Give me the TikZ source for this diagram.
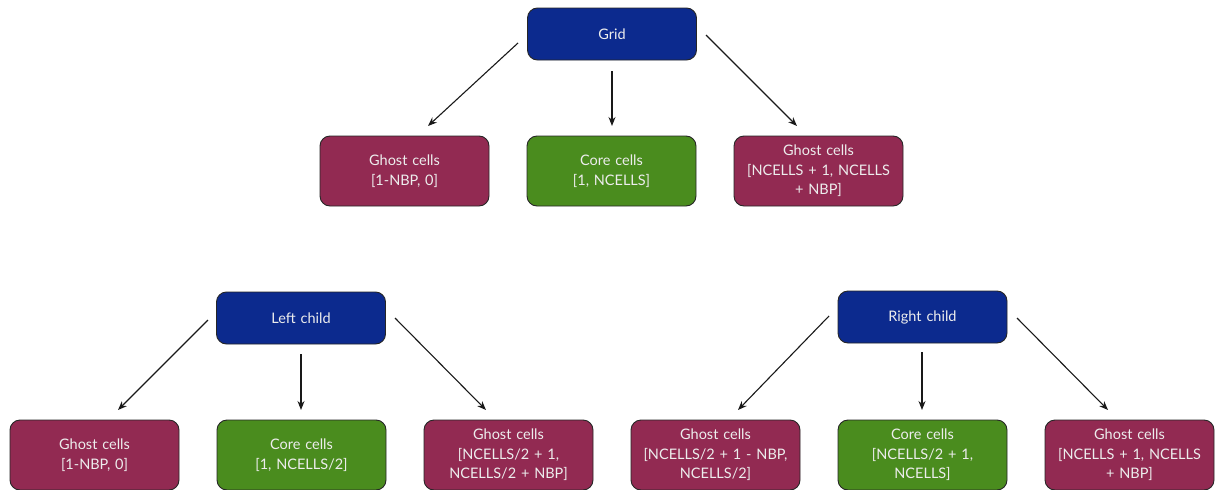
\documentclass[tikz,border=0pt]{standalone}
\usepackage{fontspec}
\setmainfont{Lato}
\usetikzlibrary{arrows.meta}
\definecolor{gridblue}{HTML}{0C2A8E}
\definecolor{ghostred}{HTML}{922A52}
\definecolor{coregreen}{HTML}{4A8C1E}
\definecolor{txt}{HTML}{EDEDED}
\tikzset{
  cellbox/.style={draw=black!85, line width=0.9pt, rounded corners=10pt,
    minimum width=169pt, minimum height=70pt, inner sep=0pt,
    text width=164pt, align=center, text=txt,
    font=\fontsize{14.5}{19.5}\selectfont},
  ghost/.style={cellbox, fill=ghostred},
  core/.style={cellbox, fill=coregreen},
  parent/.style={cellbox, fill=gridblue, minimum height=52pt},
  arr/.style={-{Stealth[length=9pt,width=7pt]}, line width=1.1pt, black!90}
}
\begin{document}
\begin{tikzpicture}[x=1pt,y=-1pt]
\path[use as bounding box] (0,0) rectangle (1227,490);

% top tree
\node[parent] (grid) at (612,34) {Grid};
\node[ghost] (gl) at (404.5,171) {Ghost cells\\{}[1-NBP, 0]};
\node[core]  (gc) at (611.5,171) {Core cells\\{}[1, NCELLS]};
\node[ghost] (gr) at (818.5,171) {Ghost cells\\{}[NCELLS + 1, NCELLS\\+ NBP]};

\coordinate (g1) at (518,43);  \coordinate (g1e) at (428,126);
\coordinate (g2) at (612,71);  \coordinate (g2e) at (612,126);
\coordinate (g3) at (706,35);  \coordinate (g3e) at (797,126);
\draw[arr] (g1) -- (g1e);
\draw[arr] (g2) -- (g2e);
\draw[arr] (g3) -- (g3e);

% left child tree
\node[parent] (lc) at (301,318) {Left child};
\node[ghost] (lgl) at (94.5,455)  {Ghost cells\\{}[1-NBP, 0]};
\node[core]  (lgc) at (301.5,455) {Core cells\\{}[1, NCELLS/2]};
\node[ghost] (lgr) at (508.5,455) {Ghost cells\\{}[NCELLS/2 + 1,\\NCELLS/2 + NBP]};

\coordinate (l1) at (208,320); \coordinate (l1e) at (118,410);
\coordinate (l2) at (301,354); \coordinate (l2e) at (301,410);
\coordinate (l3) at (395,318); \coordinate (l3e) at (486,410);
\draw[arr] (l1) -- (l1e);
\draw[arr] (l2) -- (l2e);
\draw[arr] (l3) -- (l3e);

% right child tree
\node[parent] (rc) at (922.5,317) {Right child};
\node[ghost] (rgl) at (715.5,455)  {Ghost cells\\{}[NCELLS/2 + 1 - NBP,\\NCELLS/2]};
\node[core]  (rgc) at (922.5,455)  {Core cells\\{}[NCELLS/2 + 1,\\NCELLS]};
\node[ghost] (rgr) at (1129.5,455) {Ghost cells\\{}[NCELLS + 1, NCELLS\\+ NBP]};

\coordinate (r1) at (829,316);  \coordinate (r1e) at (738,410);
\coordinate (r2) at (922,352);  \coordinate (r2e) at (922,410);
\coordinate (r3) at (1017,318); \coordinate (r3e) at (1108,410);
\draw[arr] (r1) -- (r1e);
\draw[arr] (r2) -- (r2e);
\draw[arr] (r3) -- (r3e);
\end{tikzpicture}
\end{document}
